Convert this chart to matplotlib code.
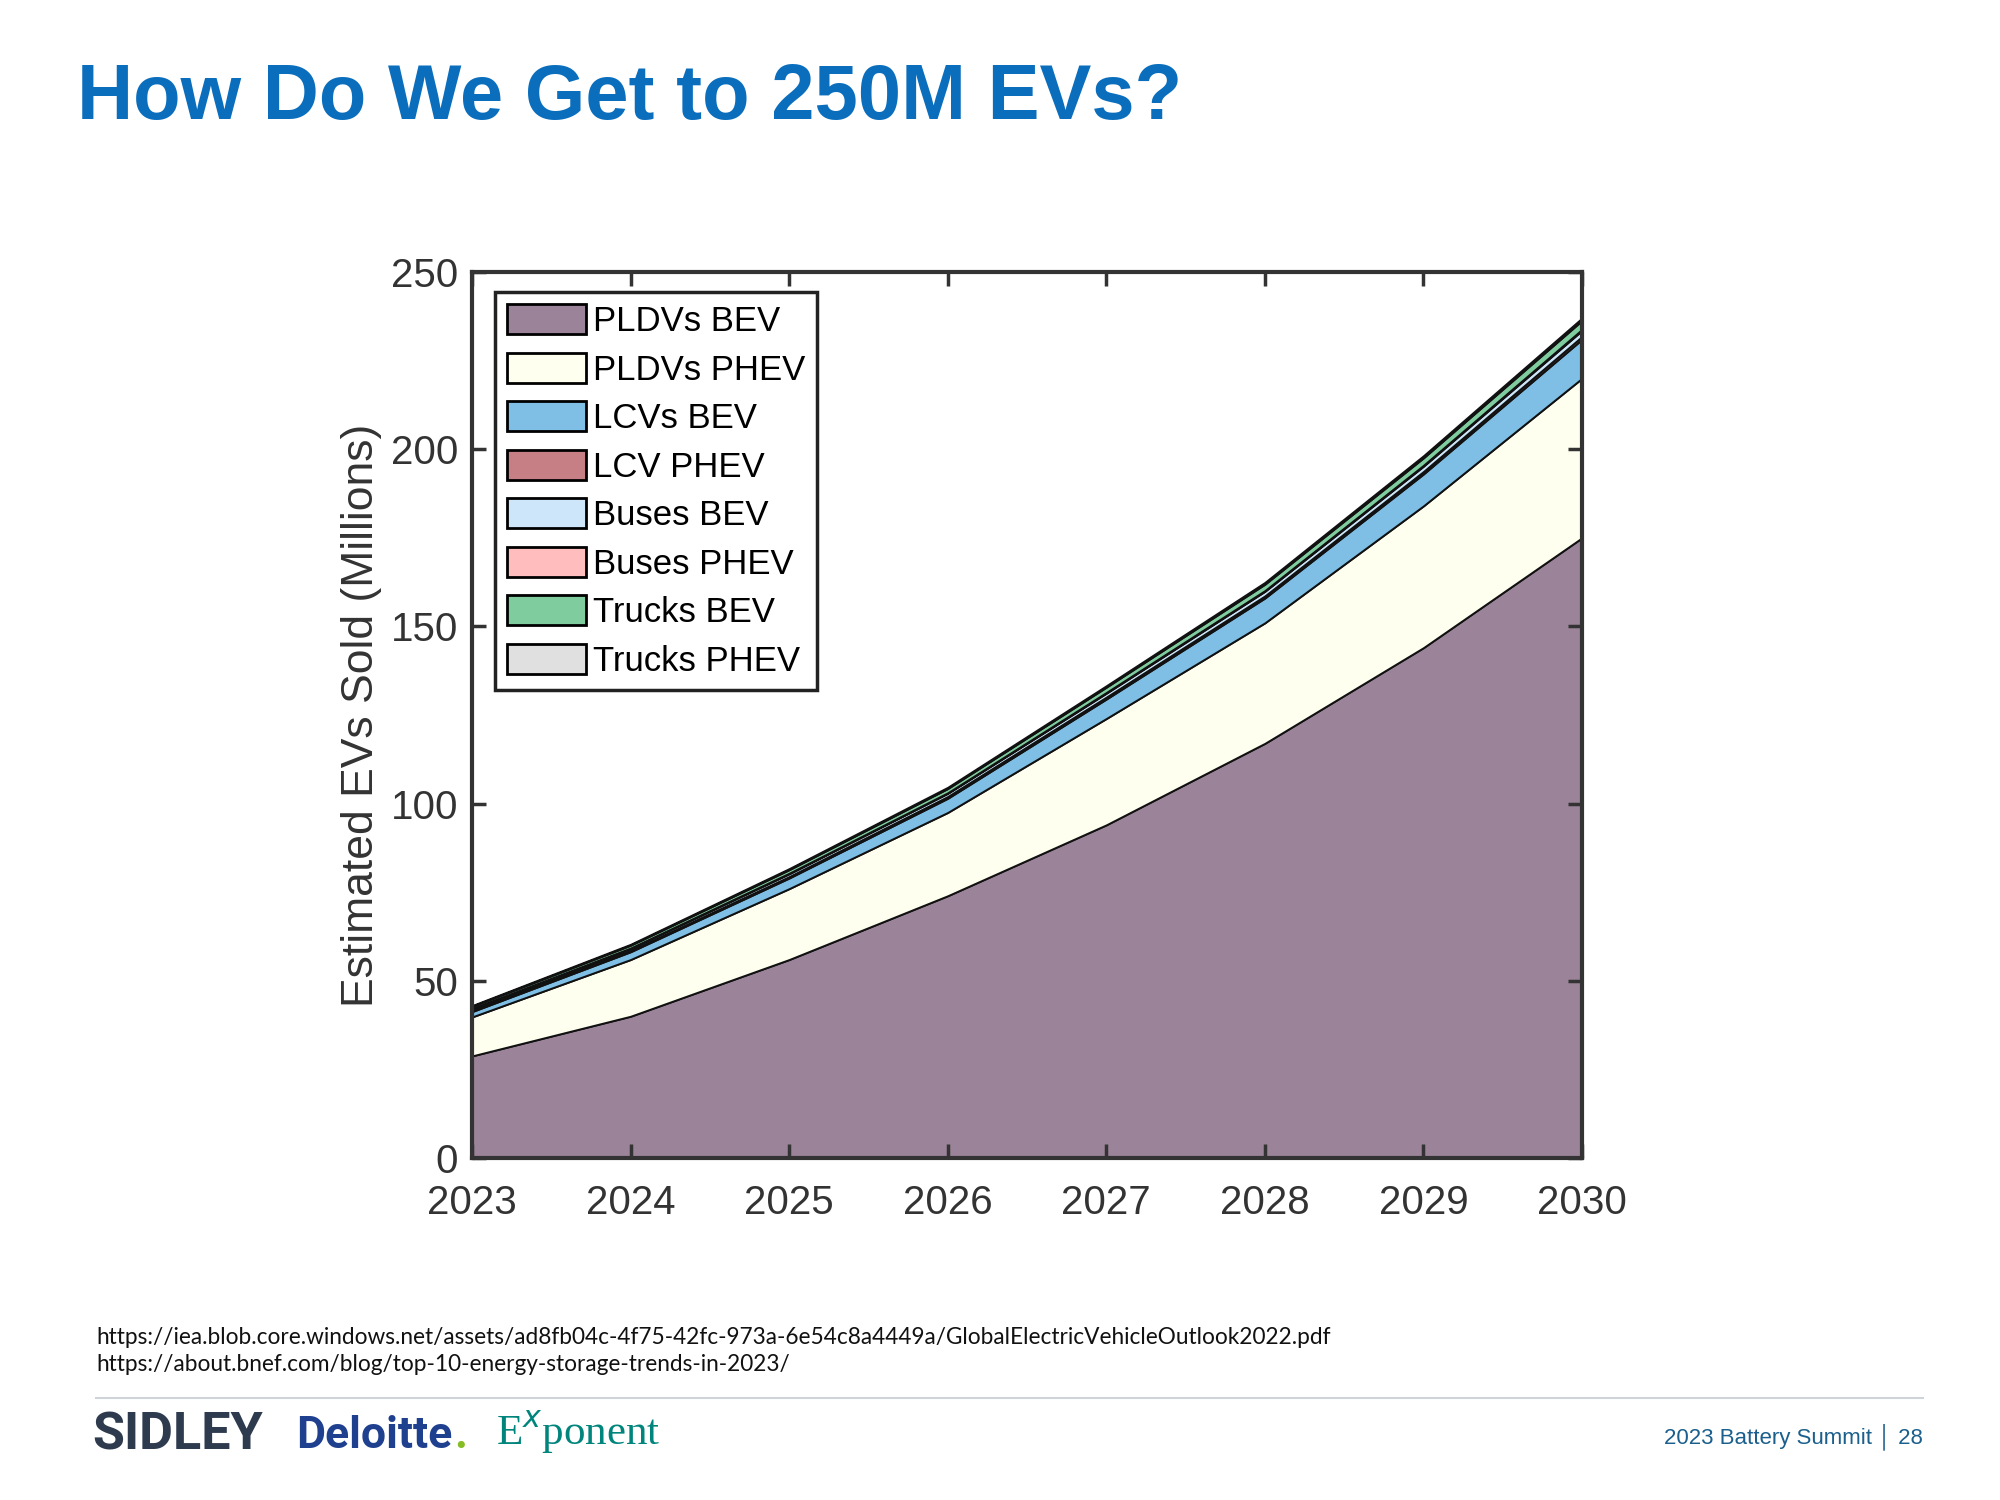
import matplotlib.pyplot as plt
from matplotlib.patches import Patch
from matplotlib.lines import Line2D

# --- data (millions of EVs sold) ---
years = [2023, 2024, 2025, 2026, 2027, 2028, 2029, 2030]
pldv_bev = [28.8, 40, 56, 74, 94, 117, 144, 175]
pldv_phev = [11, 16, 20, 23.5, 30, 34, 40, 45]
lcv_bev = [1.5, 2.2, 3, 4, 5.5, 7, 9, 11]
lcv_phev = [0.3, 0.35, 0.4, 0.5, 0.55, 0.6, 0.7, 0.8]
buses_bev = [0.5, 0.6, 0.8, 0.9, 1.1, 1.3, 1.5, 1.7]
buses_phev = [0.1, 0.1, 0.15, 0.15, 0.2, 0.2, 0.25, 0.3]
trucks_bev = [0.6, 0.8, 1.0, 1.2, 1.5, 1.8, 2.1, 2.5]
trucks_phev = [0.2, 0.25, 0.3, 0.35, 0.4, 0.5, 0.6, 0.7]

labels = ["PLDVs BEV", "PLDVs PHEV", "LCVs BEV", "LCV PHEV",
          "Buses BEV", "Buses PHEV", "Trucks BEV", "Trucks PHEV"]
colors = ["#9b8499", "#fffff0", "#7fbfe6", "#c77f86",
          "#cde6fa", "#ffbdbd", "#7fcc9e", "#e0e0e0"]

yticks = [0, 50, 100, 150, 200, 250]

plt.rcParams["font.family"] = ["Liberation Sans", "DejaVu Sans"]

fig = plt.figure(figsize=(20, 15), dpi=100, facecolor="white")

# --- slide title ---
fig.text(0.0385, 0.934, "How Do We Get to 250M EVs?", fontsize=56,
         fontweight="bold", color="#0a6ebd", va="center", ha="left")

# --- the chart ---
ax = fig.add_axes([0.236, 0.228, 0.555, 0.5907])
ax.stackplot(years, pldv_bev, pldv_phev, lcv_bev, lcv_phev, buses_bev,
             buses_phev, trucks_bev, trucks_phev, colors=colors,
             edgecolor="#111111", linewidth=1.4)

ax.set_xlim(2023, 2030)
ax.set_ylim(0, 250)
ax.set_xticks(years)
ax.set_yticks(yticks)
ax.tick_params(direction="in", length=10, width=2.5, top=True, right=True,
               labelsize=29, colors="#333333")
ax.tick_params(axis="x", pad=19)
ax.tick_params(axis="y", pad=10)
for s in ax.spines.values():
    s.set_linewidth(3)
    s.set_color("#333333")
ax.set_ylabel("Estimated EVs Sold (Millions)", fontsize=32, color="#333333",
              labelpad=6)

handles = [Patch(facecolor=c, edgecolor="black", linewidth=2) for c in colors]
leg = ax.legend(handles, labels, loc="upper left", fontsize=25,
                bbox_to_anchor=(0.021, 0.977), frameon=True, fancybox=False,
                framealpha=1, edgecolor="#222222", handlelength=2.25,
                handleheight=0.95, handletextpad=0.2, labelspacing=0.42,
                borderpad=0.35, borderaxespad=0.0)
leg.get_frame().set_linewidth(2.5)
leg.set_zorder(5)

# --- sources ---
fig.text(0.048, 0.1085,
         "https://iea.blob.core.windows.net/assets/ad8fb04c-4f75-42fc-973a-6e54c8a4449a/GlobalElectricVehicleOutlook2022.pdf",
         fontsize=16.3, family=["Lato", "DejaVu Sans"], color="#111111", va="center")
fig.text(0.048, 0.0905,
         "https://about.bnef.com/blog/top-10-energy-storage-trends-in-2023/",
         fontsize=16.3, family=["Lato", "DejaVu Sans"], color="#111111", va="center")

fig.add_artist(Line2D([0.048, 0.9615], [0.068, 0.068], color="#d0d4d8",
                      linewidth=1.5, transform=fig.transFigure))

# --- footer logos ---
fig.text(0.046, 0.043, "SIDLEY", fontsize=37.5, fontweight="bold",
         family=["Roboto", "DejaVu Sans"], color="#2e3b4e", va="center")
deloitte = fig.text(0.148, 0.043, "Deloitte", fontsize=32, fontweight="bold",
                    family=["Roboto", "DejaVu Sans"], color="#1f3f8f",
                    va="center")
fig.canvas.draw()
bb = deloitte.get_window_extent().transformed(fig.transFigure.inverted())
fig.text(bb.x1 + 0.001, 0.043, ".", fontsize=32, fontweight="bold",
         family=["Roboto", "DejaVu Sans"], color="#86bc25", va="center")
fig.text(0.248, 0.045, r"E$^{\mathit{x}}$ponent", fontsize=31,
         family=["Liberation Serif", "DejaVu Serif"], color="#00857c",
         va="center")

fig.text(0.9615, 0.042, "2023 Battery Summit \u2502 28", fontsize=16,
         color="#1b5f8c", ha="right", va="center")

fig.savefig("out.png", dpi=100, facecolor="white")
